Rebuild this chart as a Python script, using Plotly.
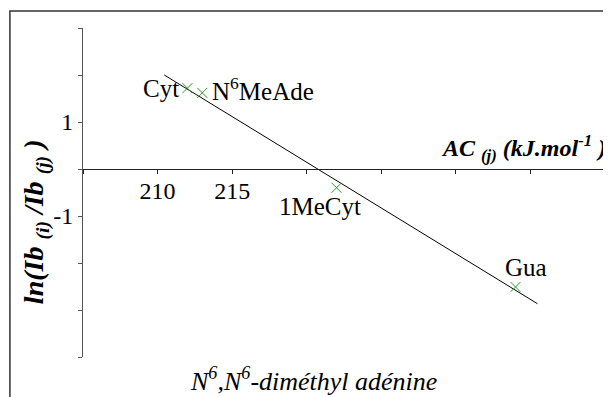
"""
ln(Ib(i)/Ib(j)) against AC(j) for N6,N6-dimethyl adenine, with a fitted line
"""
import plotly.graph_objects as go

# measured points
bases = ['Cyt', 'N<sup>6</sup>MeAde', '1MeCyt', 'Gua']
ac_j = [212.0, 213.0, 222.0, 234.0]
ln_ratio = [1.72, 1.62, -0.40, -2.51]

# ends of the fitted line
fit_x = [210.45, 235.47]
fit_y = [2.0, -2.866]

x_ticks = [205, 210, 215, 220, 225, 230, 235, 240]
x_ticktext = ['', '210', '215', '', '', '', '', '']
y_ticks = [-4, -3, -2, -1, 0, 1, 2, 3]
y_ticktext = ['', '', '', '-1', '', '1', '', '']

SERIF = "Liberation Serif, Times New Roman, DejaVu Serif, serif"
GREEN = '#2e9a2e'

fig = go.Figure()
fig.add_trace(go.Scatter(x=fit_x, y=fit_y, mode='lines',
                         line=dict(color='black', width=1), hoverinfo='skip'))
fig.add_trace(go.Scatter(x=ac_j, y=ln_ratio, mode='markers',
                         marker=dict(symbol='x-thin-open', size=10, color=GREEN,
                                     line=dict(color=GREEN, width=1))))

# label offsets (px) for each point
label_pos = [
    dict(xanchor='right', yanchor='middle', xshift=-6, yshift=0),
    dict(xanchor='left', yanchor='middle', xshift=8, yshift=4),
    dict(xanchor='center', yanchor='middle', xshift=-17, yshift=-19),
    dict(xanchor='center', yanchor='middle', xshift=10, yshift=19),
]
for name, x, y, pos in zip(bases, ac_j, ln_ratio, label_pos):
    fig.add_annotation(x=x, y=y, text=name, showarrow=False,
                       font=dict(family=SERIF, size=25, color='black'), **pos)

fig.add_annotation(xref='paper', yref='paper', x=-0.09, y=0.41,
                   xanchor='center', yanchor='middle',
                   text='<b><i>ln(Ib <sub>(i)</sub> /Ib <sub>(j)</sub> )</i></b>',
                   textangle=-90, showarrow=False,
                   font=dict(family=SERIF, size=28, color='black'))
fig.add_annotation(xref='paper', yref='paper', x=1.006, y=0.635,
                   xanchor='right', yanchor='middle',
                   text='<b><i>AC <sub>(j)</sub> (kJ.mol<sup>-1</sup> )</i></b>',
                   showarrow=False, font=dict(family=SERIF, size=24, color='black'))
fig.add_annotation(xref='paper', yref='paper', x=0.4425, y=-0.067,
                   xanchor='center', yanchor='middle',
                   text='<i>N<sup>6</sup>,N<sup>6</sup>-diméthyl adénine</i>',
                   showarrow=False, font=dict(family=SERIF, size=26, color='black'))

# frame around the figure
fig.add_shape(type='rect', xref='paper', yref='paper',
              x0=-0.14, x1=1.2, y0=-0.3, y1=1.052,
              line=dict(color='#333333', width=1.5))

fig.update_xaxes(range=[205, 240], tickvals=x_ticks, ticktext=x_ticktext,
                 anchor='free', position=4 / 7,
                 showline=True, linecolor='#222222', linewidth=1,
                 ticks='outside', ticklen=4, tickcolor='#222222',
                 ticklabelstandoff=-4,
                 showgrid=False, zeroline=False,
                 tickfont=dict(family=SERIF, size=24, color='black'))
fig.update_yaxes(range=[-4, 3], tickvals=y_ticks, ticktext=y_ticktext,
                 showline=True, linecolor='#555555', linewidth=1,
                 ticks='outside', ticklen=4, tickcolor='#555555',
                 showgrid=False, zeroline=False,
                 tickfont=dict(family=SERIF, size=24, color='black'))
# page body adds 8px, so the figure is 8px smaller than the window
fig.layout.update(width=603, height=389, showlegend=False,
                  plot_bgcolor='white', paper_bgcolor='white',
                  margin=dict(l=75, r=6, t=20, b=40))
fig.write_html('out.html')
